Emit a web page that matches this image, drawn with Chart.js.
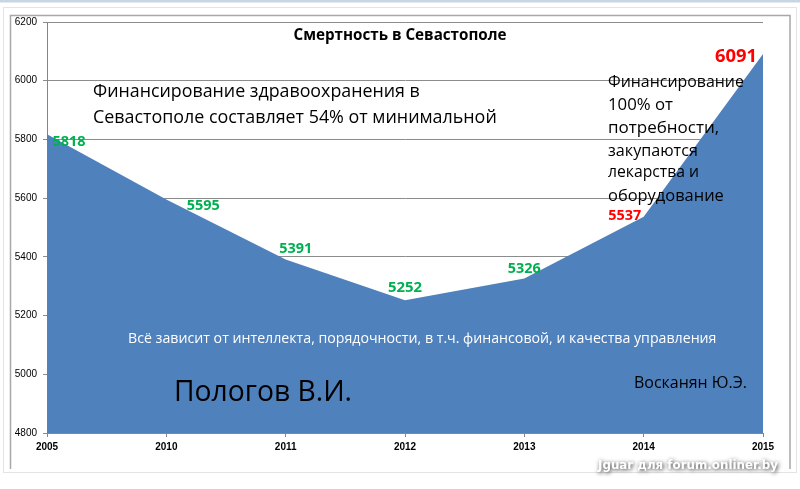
<!DOCTYPE html>
<html>
<head>
<meta charset="utf-8">
<script src="https://cdn.jsdelivr.net/npm/chart.js@4.4.1/dist/chart.umd.min.js"></script>
<style>
html,body{margin:0;padding:0;background:#fff;}
#wrap{width:800px;height:489px;position:relative;}
</style>
</head>
<body>
<div id="wrap"><canvas id="c" width="800" height="489"></canvas></div>
<script>
// ---- data ----
const years = ['2005','2010','2011','2012','2013','2014','2015'];
const deaths = [5818, 5595, 5391, 5252, 5326, 5537, 6091];
const yTicks = [4800, 5000, 5200, 5400, 5600, 5800, 6000, 6200];

const titleText = 'Смертность в Севастополе';
const noteLeft = ['Финансирование здравоохранения в', 'Севастополе составляет 54% от минимальной'];
const noteRight = ['Финансирование', '100% от', 'потребности,', 'закупаются', 'лекарства и', 'оборудование'];
const noteMiddle = 'Всё зависит от интеллекта, порядочности, в т.ч. финансовой, и качества управления';
const author1 = 'Пологов В.И.';
const author2 = 'Восканян Ю.Э.';
const watermark = 'Jguar для forum.onliner.by';

// label styling (offsets relative to each data point)
const labelStyle = {
  dx: [22, 37, 10, 0, 0, -19, -27],
  dy: [8, 6, -11, -13, -10, -1, 3],
  color: ['#00b050','#00b050','#00b050','#00b050','#00b050','#ff0000','#ff0000'],
  width: [33, 33, 33, 34, 33, 33, 42]
};

const F = '"Open Sans", "Noto Sans", sans-serif';

// draw text so that it spans the given width (font size derived from width)
function fitText(ctx, s, x, y, weight, family, targetW, color, align, maxSize) {
  ctx.font = weight + ' 20px ' + family;
  const w = ctx.measureText(s).width;
  let size = 20 * targetW / w;
  if (maxSize && size > maxSize) size = maxSize;
  ctx.font = weight + ' ' + size.toFixed(2) + 'px ' + family;
  ctx.fillStyle = color;
  ctx.textAlign = align || 'left';
  ctx.textBaseline = 'middle';
  ctx.fillText(s, x, y, targetW + 1);
}

const framePlugin = {
  id: 'frame',
  beforeDraw(chart) {
    const ctx = chart.ctx;
    ctx.save();
    ctx.fillStyle = '#ffffff';
    ctx.fillRect(0, 0, 800, 489);
    ctx.fillStyle = '#c9d5e2';
    ctx.fillRect(0, 0, 800, 2.5);
    ctx.strokeStyle = '#e4e4e4';
    ctx.lineWidth = 1;
    ctx.strokeRect(3.5, 7.5, 793, 465);
    ctx.strokeStyle = '#a8a8a8';
    ctx.lineWidth = 1.5;
    ctx.beginPath();
    ctx.moveTo(10.5, 469);
    ctx.lineTo(10.5, 15.5);
    ctx.lineTo(790, 15.5);
    ctx.lineTo(790, 469);
    ctx.stroke();
    ctx.restore();
  }
};

const textPlugin = {
  id: 'texts',
  afterDatasetsDraw(chart) {
    const ctx = chart.ctx;
    const xs = chart.scales.x, ys = chart.scales.y;
    ctx.save();
    // title
    fitText(ctx, titleText, 400, 36, 'bold', F, 213, '#000', 'center');
    // left note
    fitText(ctx, noteLeft[0], 93, 92, 'normal', F, 327, '#000', 'left');
    fitText(ctx, noteLeft[1], 93, 118, 'normal', F, 404, '#000', 'left');
    // right note
    const ry = [82, 105, 128, 151, 173, 196];
    const rw = [136, 65, 113, 90, 91, 116];
    noteRight.forEach((s, i) => fitText(ctx, s, 608, ry[i], 'normal', F, rw[i], '#000', 'left', 17));
    // middle white note
    fitText(ctx, noteMiddle, 128, 339, 'normal', F, 589, '#ffffff', 'left');
    // authors
    fitText(ctx, author1, 174, 393, 'normal', F, 178, '#000', 'left');
    fitText(ctx, author2, 634, 383, 'normal', F, 113, '#000', 'left');
    // data labels
    deaths.forEach((v, i) => {
      const px = xs.getPixelForValue(i) + labelStyle.dx[i];
      const py = ys.getPixelForValue(v) + labelStyle.dy[i];
      fitText(ctx, String(v), px, py, 'bold', F, labelStyle.width[i], labelStyle.color[i], 'center');
    });
    // watermark
    ctx.shadowColor = 'rgba(0,0,0,0.85)';
    ctx.shadowBlur = 4;
    ctx.shadowOffsetX = 1;
    ctx.shadowOffsetY = 1;
    fitText(ctx, watermark, 598, 466, 'bold', '"DejaVu Sans", sans-serif', 180, '#ffffff', 'left');
    ctx.restore();
  }
};

new Chart(document.getElementById('c'), {
  type: 'line',
  data: {
    labels: years,
    datasets: [{
      data: deaths,
      fill: 'start',
      backgroundColor: '#4f81bd',
      borderColor: '#4f81bd',
      borderWidth: 0,
      pointRadius: 0,
      tension: 0
    }]
  },
  options: {
    responsive: false,
    animation: false,
    devicePixelRatio: 1,
    layout: { padding: { top: 22, right: 37, left: 0, bottom: 0 } },
    plugins: { legend: { display: false }, tooltip: { enabled: false }, title: { display: false } },
    scales: {
      x: {
        type: 'category',
        offset: false,
        grid: { drawOnChartArea: false, drawTicks: true, tickLength: 4, color: '#868686' },
        border: { display: true, color: '#868686', width: 1 },
        ticks: { color: '#000', font: { family: '"Liberation Sans", sans-serif', size: 10, weight: 'bold' }, padding: 4, maxRotation: 0, autoSkip: false },
        afterFit(s) { s.height = 56; }
      },
      y: {
        min: yTicks[0],
        max: yTicks[yTicks.length - 1],
        afterBuildTicks(s) { s.ticks = yTicks.map(v => ({ value: v })); },
        grid: { color: '#8c8c8c', lineWidth: 1, tickLength: 4, drawTicks: true },
        border: { display: true, color: '#868686', width: 1 },
        ticks: { color: '#000', font: { family: '"Liberation Sans", sans-serif', size: 10 }, padding: 6, callback: v => String(v) },
        afterFit(s) { s.width = 47; }
      }
    }
  },
  plugins: [framePlugin, textPlugin]
});
</script>
</body>
</html>
